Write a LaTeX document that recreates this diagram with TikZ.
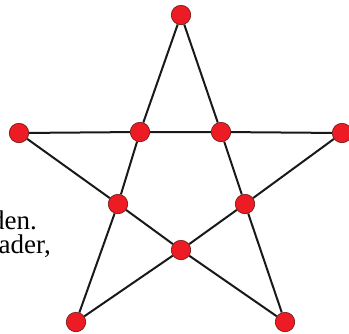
\documentclass[tikz,border=0pt]{standalone}
\usepackage{fontspec}
\setmainfont{Liberation Serif}
\begin{document}
\begin{tikzpicture}[x=1pt,y=-1pt,
  dot/.style={circle,fill={rgb,255:red,237;green,28;blue,36},draw={rgb,255:red,110;green,20;blue,20},line width=0.6pt,minimum size=19.5pt,inner sep=0pt},
  edge/.style={line width=2pt,black!90},
  frag/.style={anchor=base east,font=\fontsize{27}{30}\selectfont,inner sep=0pt}]
\useasboundingbox (0,0) rectangle (349,333);
\clip (0,0) rectangle (349,333);
\node[frag] (t1) at (37,229) {den.};
\node[frag] (t2) at (51,253) {ader,};
\node[dot] (T) at (181,15) {};
\node[dot] (L) at (19,133) {};
\node[dot] (R) at (342,133) {};
\node[dot] (A) at (140,132) {};
\node[dot] (B) at (221,132) {};
\node[dot] (C) at (118,204) {};
\node[dot] (D) at (245,204) {};
\node[dot] (E) at (181,250) {};
\node[dot] (BL) at (76,322) {};
\node[dot] (BR) at (285,322) {};
\draw[edge] (T) -- (A) -- (C) -- (BL);
\draw[edge] (T) -- (B) -- (D) -- (BR);
\draw[edge] (L) -- (A) -- (B) -- (R);
\draw[edge] (L) -- (C) -- (E) -- (BR);
\draw[edge] (R) -- (D) -- (E) -- (BL);
\end{tikzpicture}
\end{document}
